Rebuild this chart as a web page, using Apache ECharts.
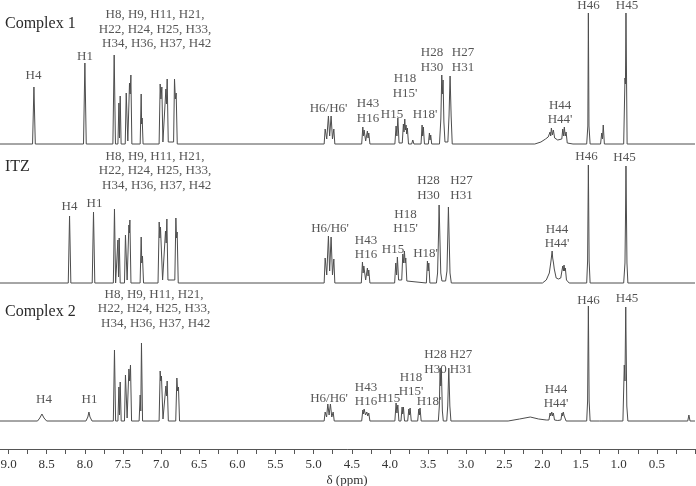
<!DOCTYPE html>
<html><head><meta charset="utf-8">
<script src="https://cdn.jsdelivr.net/npm/echarts@6/dist/echarts.min.js"></script>
<style>html,body{margin:0;padding:0;background:#fff}#c{width:696px;height:486px}</style>
</head><body><div id="c"></div>
<script>
// ---- Spectrum data: [chemical shift (ppm), intensity] ----
const complex1 = [
[9.12,0],
[8.685,0],[8.667,57],[8.649,0],
[8.017,0],[7.999,81],[7.981,0],
[7.632,0],[7.615,89],[7.598,0],
[7.566,0],[7.553,41],[7.545,6],[7.536,48],[7.524,0],
[7.470,0],[7.457,51],[7.436,3],[7.414,61],[7.405,50],[7.396,69],[7.383,0],
[7.274,0],[7.261,50],[7.255,20],[7.248,26],[7.236,0],
[7.026,0],[7.012,60],[7.002,45],[6.990,57],[6.976,2],[6.950,2],[6.937,55],[6.929,40],[6.920,65],[6.906,2],
[6.836,2],[6.824,65],[6.813,45],[6.802,51],[6.788,0],
[4.862,0],[4.849,15],[4.828,5],[4.806,28],[4.790,8],[4.771,28],[4.753,5],[4.735,15],[4.722,0],
[4.370,0],[4.355,17],[4.347,8],[4.338,14],[4.318,3],[4.295,13],[4.286,6],[4.277,11],[4.262,0],
[3.935,0],[3.919,18],[3.908,8],[3.896,26],[3.880,1],
[3.838,1],[3.823,20],[3.815,12],[3.805,25],[3.797,14],[3.788,19],[3.780,10],[3.771,16],[3.756,0],
[3.715,0],[3.700,4],[3.685,0],
[3.592,0],[3.578,19],[3.570,8],[3.561,17],[3.547,0],
[3.496,0],[3.482,11],[3.474,4],[3.465,9],[3.452,0],
[3.350,0],[3.332,25],[3.320,69],[3.312,50],[3.303,64],[3.292,22],[3.278,2],
[3.240,2],[3.225,28],[3.211,68],[3.197,28],[3.183,0],
[2.100,0],[2.020,2],[1.960,5],[1.925,7],[1.910,8],[1.900,12],[1.892,8],[1.883,16],[1.870,9],[1.857,14],[1.840,6],[1.800,4],
[1.746,5],[1.734,15],[1.724,8],[1.713,17],[1.702,8],[1.690,12],[1.675,1],[1.600,0],
[1.420,0],[1.405,18],[1.398,131],[1.390,18],[1.375,0],
[1.238,0],[1.223,11],[1.213,5],[1.203,19],[1.188,0],
[0.935,0],[0.918,66],[0.912,60],[0.905,131],[0.890,0],
[0.0,0]
];
const itz = [
[9.12,0],
[8.217,0],[8.200,67],[8.183,0],
[7.903,0],[7.886,71],[7.869,0],
[7.626,0],[7.611,74],[7.596,0],
[7.580,0],[7.566,43],[7.558,6],[7.549,45],[7.536,0],
[7.480,0],[7.467,48],[7.445,3],[7.422,58],[7.415,50],[7.409,63],[7.395,0],
[7.275,0],[7.261,46],[7.253,20],[7.244,27],[7.230,0],
[7.040,0],[7.025,61],[7.016,45],[7.008,56],[6.980,3],[6.955,3],[6.942,52],[6.933,40],[6.924,64],[6.910,3],
[6.820,3],[6.806,65],[6.798,45],[6.789,51],[6.775,0],
[4.862,0],[4.849,25],[4.828,8],[4.806,47],[4.790,12],[4.771,46],[4.753,8],[4.735,24],[4.722,0],
[4.375,0],[4.360,21],[4.351,10],[4.342,17],[4.318,3],[4.295,15],[4.286,7],[4.277,13],[4.262,0],
[3.938,0],[3.923,20],[3.912,8],[3.902,26],[3.886,3],
[3.845,3],[3.831,29],[3.820,20],[3.810,32],[3.800,20],[3.792,25],[3.778,2],[3.760,0],
[3.522,0],[3.508,22],[3.499,12],[3.490,20],[3.476,0],
[3.390,0],[3.375,10],[3.362,50],[3.355,78],[3.346,50],[3.333,10],[3.318,2],
[3.270,2],[3.252,12],[3.240,50],[3.233,76],[3.225,50],[3.212,10],[3.195,0],
[2.000,0],[1.950,3],[1.910,10],[1.888,22],[1.873,32],[1.866,25],[1.855,20],[1.845,14],[1.820,5],[1.790,4],
[1.760,5],[1.745,12],[1.734,17],[1.725,12],[1.717,18],[1.708,12],[1.700,15],[1.685,3],[1.650,0],
[1.420,0],[1.408,22],[1.398,118],[1.388,22],[1.375,0],
[0.935,0],[0.918,20],[0.912,60],[0.905,117],[0.892,20],[0.880,0],
[0.0,0]
];
const complex2 = [
[9.12,0],
[8.620,0],[8.590,3],[8.562,7],[8.535,3],[8.500,0],
[7.985,0],[7.960,4],[7.946,9],[7.932,4],[7.905,0],
[7.626,0],[7.611,71],[7.596,0],
[7.566,0],[7.553,34],[7.545,6],[7.536,39],[7.523,0],
[7.480,0],[7.467,46],[7.445,3],[7.422,52],[7.412,40],[7.401,56],[7.387,0],
[7.288,0],[7.274,26],[7.266,10],[7.257,78],[7.243,0],
[7.026,0],[7.012,50],[7.004,40],[6.995,45],[6.975,2],[6.950,2],[6.937,35],[6.929,25],[6.920,40],[6.905,0],
[6.808,0],[6.793,43],[6.783,30],[6.772,34],[6.758,0],
[4.862,0],[4.849,9],[4.830,4],[4.814,17],[4.797,6],[4.780,17],[4.762,4],[4.744,9],[4.730,0],
[4.370,0],[4.355,11],[4.346,7],[4.338,12],[4.320,6],[4.303,9],[4.290,5],[4.277,8],[4.262,0],
[3.935,0],[3.919,18],[3.908,8],[3.896,16],[3.882,0],
[3.855,0],[3.840,14],[3.832,7],[3.823,14],[3.808,0],
[3.767,0],[3.752,12],[3.744,6],[3.735,13],[3.720,0],
[3.636,0],[3.621,12],[3.613,6],[3.605,13],[3.590,0],
[3.365,0],[3.352,15],[3.342,53],[3.333,35],[3.325,51],[3.312,10],[3.300,0],
[3.255,0],[3.242,15],[3.228,53],[3.214,15],[3.200,0],
[2.450,0],[2.300,2],[2.160,4],[2.050,2],[1.950,1],
[1.915,1],[1.900,8],[1.892,5],[1.878,9],[1.867,5],[1.857,8],[1.842,1],[1.800,0.5],
[1.758,1],[1.744,8],[1.735,5],[1.727,9],[1.715,5],[1.704,7],[1.690,0],
[1.420,0],[1.408,20],[1.398,115],[1.388,20],[1.375,0],
[1.250,0],[1.235,2],[1.220,0],
[0.945,0],[0.927,56],[0.918,40],[0.908,114],[0.894,15],[0.880,0],
[0.095,0],[0.080,6],[0.065,0],
[0.0,0]
];
const traceNames = ['Complex 1', 'ITZ', 'Complex 2'];
const AROM = 'H8, H9, H11, H21,\nH22, H24, H25, H33,\n H34, H36, H37, H42';
// ---- Peak annotations: [ppm, intensity, text] ----
const labels1 = [
[7.080,114.5,AROM],[8.673,68,'H4'],[7.997,87,'H1'],[4.805,35,"H6/H6'"],
[4.287,33,'H43\nH16'],[3.972,29,'H15'],[3.802,58,"H18\nH15'"],[3.539,29,"H18'"],
[3.448,84,'H28\nH30'],[3.041,84,'H27\nH31'],[1.769,31.5,"H44\nH44'"],
[1.396,138,'H46'],[0.891,138,'H45']
];
const labels2 = [
[7.080,112.2,AROM],[8.201,76.3,'H4'],[7.873,79.7,'H1'],[4.785,54.7,"H6/H6'"],
[4.313,35.5,'H43\nH16'],[3.959,33,'H15'],[3.795,61.3,"H18\nH15'"],[3.533,29.7,"H18'"],
[3.494,94.8,'H28\nH30'],[3.061,94.8,'H27\nH31'],[1.809,46.3,"H44\nH44'"],
[1.422,126.3,'H46'],[0.924,125.7,'H45']
];
const labels3 = [
[7.093,112.1,AROM],[8.535,21.7,'H4'],[7.938,21.7,'H1'],[4.798,22.7,"H6/H6'"],
[4.313,26.5,'H43\nH16'],[4.012,22.7,'H15'],[3.723,36.5,"H18\nH15'"],[3.487,19.3,"H18'"],
[3.402,58.8,'H28\nH30'],[3.068,58.8,'H27\nH31'],[1.822,24.5,"H44\nH44'"],
[1.396,120.3,'H46'],[0.891,122.7,'H45']
];
const tickStep = 0.25;
const axisName = 'δ (ppm)';

const FONT = "'Liberation Serif','Times New Roman',serif";
const spectra = [complex1, itz, complex2];
const labelSets = [labels1, labels2, labels3];
const gridTops = [4, 143, 281];
const titleTops = [16, 159, 304];

const grids = gridTops.map(t => ({left: -1, right: 1, top: t, height: 140, containLabel: false, outerBoundsMode: 'none'}));
const xAxes = gridTops.map((t, i) => {
  const last = i === 2;
  return {
    type: 'value', gridIndex: i, min: 0, max: 9.125, inverse: true,
    interval: tickStep, show: last, offset: last ? 28 : 0,
    splitLine: {show: false},
    axisLine: {show: true, onZero: false, lineStyle: {color: '#555', width: 1}},
    axisTick: {show: true, length: 5, lineStyle: {color: '#555'}},
    axisLabel: {
      show: true, margin: 9, color: '#333', fontSize: 13, fontFamily: FONT,
      formatter: v => {
        const d = v * 2;
        if (Math.abs(d - Math.round(d)) > 1e-6 || v < 0.4 || v > 9.01) return '';
        return v.toFixed(1);
      }
    },
    name: last ? axisName : '', nameLocation: 'middle', nameGap: 25,
    nameTextStyle: {color: '#333', fontSize: 13, fontFamily: FONT}
  };
});
const yAxes = gridTops.map((t, i) => ({type: 'value', gridIndex: i, min: 0, max: 140, show: false}));

const series = [];
spectra.forEach((d, i) => {
  series.push({
    type: 'line', xAxisIndex: i, yAxisIndex: i, data: d, showSymbol: false, symbol: 'none',
    lineStyle: {color: '#4d4d4d', width: 1}, silent: true, animation: false, clip: false
  });
  series.push({
    type: 'scatter', xAxisIndex: i, yAxisIndex: i, symbolSize: 0, silent: true, animation: false,
    data: labelSets[i].map(l => ({value: [l[0], l[1]], name: l[2]})),
    label: {show: true, formatter: '{b}', position: [0, 0], align: 'center', verticalAlign: 'middle',
      color: '#2a2a2a', fontSize: 13, fontFamily: FONT, lineHeight: 14.5}
  });
});

const chart = echarts.init(document.getElementById('c'), null, {renderer: 'canvas'});
chart.setOption({
  animation: false,
  backgroundColor: '#fff',
  title: traceNames.map((n, i) => ({text: n, left: 5, top: titleTops[i], padding: 0,
    textStyle: {fontSize: 16, fontWeight: 'normal', color: '#2a2a2a', fontFamily: FONT}})),
  grid: grids, xAxis: xAxes, yAxis: yAxes, series: series
});
</script></body></html>
